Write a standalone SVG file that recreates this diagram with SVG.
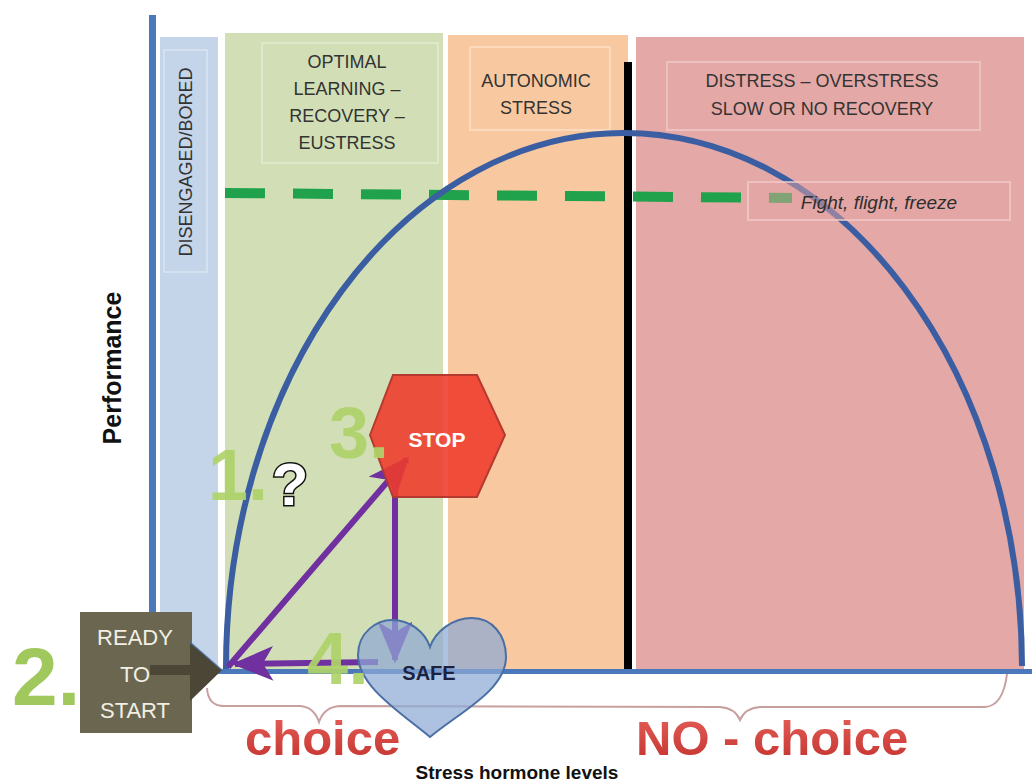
<svg xmlns="http://www.w3.org/2000/svg" width="1032" height="784" viewBox="0 0 1032 784">
<defs>
<style>
.lbl{font-family:"Liberation Sans",Arial,sans-serif;font-size:18px;fill:#333333;text-anchor:middle}
.num{font-family:"Liberation Sans",Arial,sans-serif;font-weight:bold;fill:#afd36a;opacity:0.92}
.red{font-family:"Liberation Sans",Arial,sans-serif;font-weight:bold;font-size:49px;fill:url(#redg)}
.ax{font-family:"Liberation Sans",Arial,sans-serif;font-weight:bold;fill:#111;text-anchor:middle}
.purple{stroke:#7030a0;stroke-width:6;fill:none}
.ibox{fill:none;stroke:#ffffff;stroke-opacity:0.4;stroke-width:1.5}
.wt{font-family:"Liberation Sans",Arial,sans-serif;fill:#f2efe4;text-anchor:middle;font-size:22px}
</style>
<linearGradient id="redg" x1="0" y1="0" x2="0" y2="1">
<stop offset="0" stop-color="#e6615b"/><stop offset="1" stop-color="#c3312d"/>
</linearGradient>
<marker id="ph" viewBox="0 0 12 10" refX="11" refY="5" markerWidth="7" markerHeight="5.8" orient="auto" markerUnits="strokeWidth">
<path d="M0,0 L12,5 L0,10 L3,5 z" fill="#7030a0"/>
</marker>
</defs>
<rect width="1032" height="784" fill="#ffffff"/>
<g id="bands">
<rect x="160" y="37" width="58" height="635" fill="#c5d5e9"/>
<rect x="225" y="33" width="218" height="639" fill="#d2dfb6"/>
<rect x="448" y="35" width="180" height="637" fill="#f8c9a1"/>
<rect x="636" y="37" width="388" height="635" fill="#e4a8a6"/>
</g>
<g id="zone-labels">
<rect class="ibox" x="164" y="50" width="43" height="222"/>
<text class="lbl" transform="translate(192,162) rotate(-90)">DISENGAGED/BORED</text>
<rect class="ibox" x="262" y="43" width="176" height="120"/>
<text class="lbl" x="347" y="68">OPTIMAL</text>
<text class="lbl" x="347" y="95">LEARNING –</text>
<text class="lbl" x="347" y="122">RECOVERY –</text>
<text class="lbl" x="347" y="149">EUSTRESS</text>
<rect class="ibox" x="470" y="47" width="140" height="83"/>
<text class="lbl" x="536" y="87">AUTONOMIC</text>
<text class="lbl" x="536" y="114">STRESS</text>
<rect class="ibox" x="667" y="62" width="313" height="68"/>
<text class="lbl" x="822" y="87">DISTRESS – OVERSTRESS</text>
<text class="lbl" x="822" y="115">SLOW OR NO RECOVERY</text>
</g>
<g id="threshold">
<path d="M225 193 L792 198" stroke="#1fa24b" stroke-width="10" stroke-dasharray="40 28" fill="none"/>
</g>
<rect id="divider" x="624" y="62" width="8" height="610" fill="#000000"/>
<path id="curve" d="M226 670 A398 535 0 0 1 1022 666" fill="none" stroke="#3b5ea3" stroke-width="6"/>
<g id="flight">
<rect x="748" y="182" width="262" height="38" fill="#e3a3a2" fill-opacity="0.5" stroke="#f2caca" stroke-width="1.5"/>
<text x="879" y="209" style="font-family:'Liberation Sans',Arial,sans-serif;font-style:italic;font-size:19px;fill:#2e2e2e;text-anchor:middle">Fight, flight, freeze</text>
</g>
<g id="axes">
<rect x="149" y="15" width="7" height="659" fill="#4a78bb"/>
<rect x="149" y="669" width="883" height="5" fill="#4a78bb"/>
<text class="ax" transform="translate(121,368) rotate(-90)" style="font-size:25px">Performance</text>
<text class="ax" x="517" y="779" style="font-size:19px">Stress hormone levels</text>
</g>
<g id="braces">
<path d="M207 688 Q208 706 224 706 L300 706 Q314 707 319 722 Q324 707 340 706 L720 707 Q735 708 740 720 Q745 708 760 707 L985 707 Q1003 706 1007 674" fill="none" stroke="#c7a0a0" stroke-width="2"/>
</g>
<g id="ready">
<rect x="80" y="612" width="112" height="121" fill="#6b6650"/>
<rect x="150" y="665" width="45" height="10" fill="#4b4636"/>
<polygon points="190,642 222,670 190,701" fill="#4b4636"/>
<path d="M190 642 L222 670" stroke="#4a78bb" stroke-width="1.5" fill="none" opacity="0.7"/>
<text class="wt" x="135" y="645">READY</text>
<text class="wt" x="135" y="682">TO</text>
<text class="wt" x="135" y="718">START</text>
</g>
<g id="connectors">
<path class="purple" d="M228 667 L407 459" marker-end="url(#ph)"/>
<path class="purple" d="M395 480 L395 660" marker-end="url(#ph)"/>
<path class="purple" d="M378 662 L235 664" marker-end="url(#ph)"/>
</g>
<g id="stop">
<polygon points="370,435 393,375 477,375 505,435 477,497 393,497" fill="#ef3a2b" fill-opacity="0.88" stroke="#b43a30" stroke-width="2"/>
<text x="437" y="447" style="font-family:'Liberation Sans',Arial,sans-serif;font-weight:bold;font-size:21px;fill:#ffffff;text-anchor:middle">STOP</text>
</g>
<g id="safe">
<path d="M430 737 C400 712 358 686 358 655 C358 632 377 620 392 620 C410 620 425 632 430 647 C435 632 452 618 472 618 C492 618 506 635 506 657 C506 690 460 712 430 737 Z" fill="#8ea9d4" fill-opacity="0.72" stroke="#4a6fa5" stroke-width="2"/>
<text x="429" y="680" style="font-family:'Liberation Sans',Arial,sans-serif;font-weight:bold;font-size:20px;fill:#1a2240;text-anchor:middle">SAFE</text>
</g>
<g id="question">
<text x="290" y="505" style="font-family:'Liberation Sans',Arial,sans-serif;font-weight:bold;font-size:60px;fill:#ffffff;stroke:#111;stroke-width:3;paint-order:stroke;text-anchor:middle">?</text>
</g>
<g id="steps">
<text class="num" x="208" y="500" style="font-size:72px">1.</text>
<text class="num" x="12" y="705" style="font-size:82px;fill:#98c450">2.</text>
<text class="num" x="329" y="458" style="font-size:72px">3.</text>
<text class="num" x="307" y="684" style="font-size:74px">4.</text>
</g>
<g id="choice-labels">
<text class="red" x="245" y="755">choice</text>
<text class="red" x="636" y="755" xml:space="preserve">NO - choice</text>
</g>
</svg>
